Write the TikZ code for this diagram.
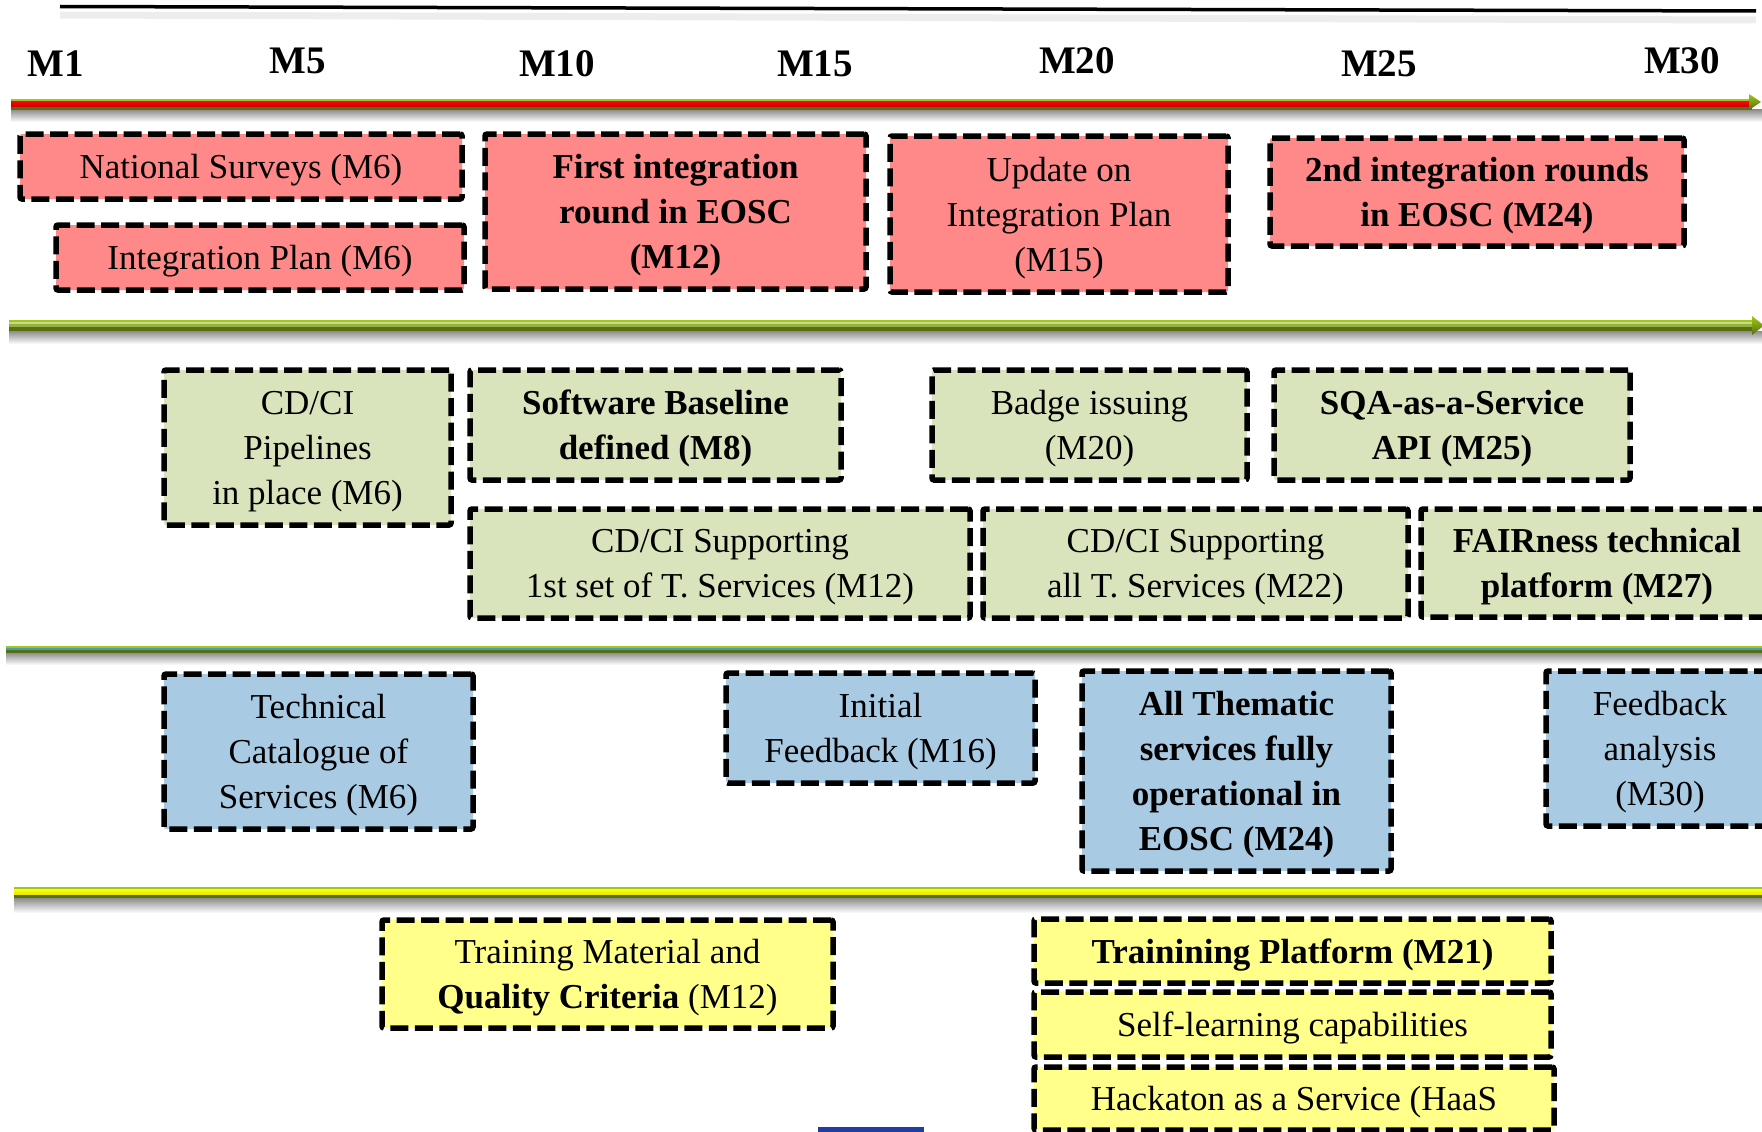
\documentclass[tikz,border=0pt]{standalone}
\usepackage{fontspec}
\setmainfont{Liberation Serif}

\definecolor{redfill}{RGB}{255,136,136}
\definecolor{greenfill}{RGB}{217,228,188}
\definecolor{bluefill}{RGB}{168,203,227}
\definecolor{yellowfill}{RGB}{255,255,138}
\definecolor{bandlight}{RGB}{160,200,20}
\definecolor{bandpale}{RGB}{200,216,144}
\definecolor{bandolive}{RGB}{150,176,60}
\definecolor{banddark}{RGB}{88,110,20}
\definecolor{bandblue}{RGB}{74,154,192}
\definecolor{bluemark}{RGB}{30,62,160}

\begin{document}
\begin{tikzpicture}[x=1pt, y=-1pt, align=center]

%STYLE SETTINGS
\tikzstyle{box}=[draw=black, line width=5.5pt, dash pattern=on 18pt off 6.5pt, rounded corners=2pt, inner sep=0pt, text depth=-1pt, font=\fontsize{35}{45}\selectfont]
\tikzstyle{redbox}=[box, fill=redfill]
\tikzstyle{greenbox}=[box, fill=greenfill]
\tikzstyle{bluebox}=[box, fill=bluefill]
\tikzstyle{yellowbox}=[box, fill=yellowfill]
\tikzstyle{month}=[inner sep=0pt, font=\fontsize{39}{45}\selectfont\bfseries]
\tikzstyle{shadow}=[top color=black!45, bottom color=white]
\tikzstyle{head}=[top color=bandlight, bottom color=banddark]

\useasboundingbox (0,0) rectangle (1762,1132);
\clip (0,0) rectangle (1762,1132);

%TOP LINE
\draw[line width=7pt, black!7] (60,15) -- (1756,20);
\draw[line width=3.5pt] (60,6.5) -- (1756,11);

%MONTHS
\node[month] (m1) at (56,64) {M1};
\node[month] (m5) at (298,61) {M5};
\node[month] (m10) at (557,64) {M10};
\node[month] (m15) at (815,64) {M15};
\node[month] (m20) at (1077,61) {M20};
\node[month] (m25) at (1379,64) {M25};
\node[month] (m30) at (1682,61) {M30};

%BANDS
% first band (red)
\shade[shadow] (11,109.5) rectangle (1762,122);
\fill[bandlight] (11,99) rectangle (1752,101.5);
\shade[top color=red, bottom color=red!78!black] (11,101.5) rectangle (1752,106.7);
\fill[banddark] (11,106.7) rectangle (1752,109.5);
\shade[head] (1749,94) -- (1761,102) -- (1749,110) -- cycle;

% second band (green)
\shade[shadow] (9,331) rectangle (1762,344);
\fill[bandlight] (9,320) rectangle (1754,322);
\fill[bandpale] (9,322) rectangle (1754,324);
\fill[bandolive] (9,324) rectangle (1754,327);
\fill[banddark] (9,327) rectangle (1754,331);
\shade[head] (1752,316) -- (1764,325.5) -- (1752,335) -- cycle;

% third band (blue)
\shade[shadow] (6,652.5) rectangle (1762,665);
\fill[bandlight] (6,646) rectangle (1770,648);
\fill[bandblue] (6,648) rectangle (1770,650.3);
\fill[banddark] (6,650.3) rectangle (1770,652.5);

% fourth band (yellow)
\shade[shadow] (14,898) rectangle (1762,913);
\fill[bandlight] (14,887) rectangle (1770,889.5);
\shade[top color=yellow, bottom color=yellow!80!olive] (14,889.5) rectangle (1770,894.5);
\fill[banddark] (14,894.5) rectangle (1770,898);

%ROW 1
\node[redbox, minimum width=442, minimum height=65] (surveys) at (241,166.5) {National Surveys (M6)};
\node[redbox, minimum width=408, minimum height=65] (intplan) at (260,257.5) {Integration Plan (M6)};
\node[redbox, minimum width=381, minimum height=155, font=\fontsize{35}{45}\selectfont\bfseries] (firstround) at (675.5,211.5) {First integration\\round in EOSC\\(M12)};
\node[redbox, minimum width=338, minimum height=156] (update) at (1059,214) {Update on\\Integration Plan\\(M15)};
\node[redbox, minimum width=414, minimum height=108, font=\fontsize{35}{45}\selectfont\bfseries] (secondround) at (1477,192) {2nd integration rounds\\in EOSC (M24)};

%ROW 2
\node[greenbox, minimum width=287, minimum height=155] (pipelines) at (307.5,447.5) {CD/CI\\Pipelines\\in place (M6)};
\node[greenbox, minimum width=371, minimum height=110, font=\fontsize{35}{45}\selectfont\bfseries] (baseline) at (655.5,425) {Software Baseline\\defined (M8)};
\node[greenbox, minimum width=315, minimum height=110] (badge) at (1089.5,425) {Badge issuing\\(M20)};
\node[greenbox, minimum width=356, minimum height=110, font=\fontsize{35}{45}\selectfont\bfseries] (sqa) at (1452,425) {SQA-as-a-Service\\API (M25)};
\node[greenbox, minimum width=500, minimum height=109] (firstset) at (720,563.5) {CD/CI Supporting\\1st set of T. Services (M12)};
\node[greenbox, minimum width=425, minimum height=109] (allset) at (1195.5,563.5) {CD/CI Supporting\\all T. Services (M22)};
\node[greenbox, minimum width=352, minimum height=108, font=\fontsize{35}{45}\selectfont\bfseries] (fairness) at (1597,563) {FAIRness technical\\platform (M27)};

%ROW 3
\node[bluebox, minimum width=309, minimum height=155] (catalogue) at (318.5,751.5) {Technical\\Catalogue of\\Services (M6)};
\node[bluebox, minimum width=309, minimum height=110] (initial) at (880.5,728) {Initial\\Feedback (M16)};
\node[bluebox, minimum width=309, minimum height=200, font=\fontsize{35}{45}\selectfont\bfseries] (thematic) at (1236.5,771) {All Thematic\\services fully\\operational in\\EOSC (M24)};
\node[bluebox, minimum width=228, minimum height=155] (fbanalysis) at (1660,748.5) {Feedback\\analysis\\(M30)};

%ROW 4
\node[yellowbox, minimum width=451, minimum height=108] (material) at (607.5,974) {Training Material and\\\textbf{Quality Criteria} (M12)};
\node[yellowbox, minimum width=517, minimum height=64, font=\fontsize{35}{45}\selectfont\bfseries] (platform) at (1292.5,951) {Trainining Platform (M21)};
\node[yellowbox, minimum width=517, minimum height=65] (selflearn) at (1292.5,1024.5) {Self-learning capabilities};
\node[yellowbox, minimum width=520, minimum height=63] (haas) at (1294,1098.5) {Hackaton as a Service (HaaS};

\fill[bluemark] (818,1127) rectangle (924,1134);

\end{tikzpicture}
\end{document}
